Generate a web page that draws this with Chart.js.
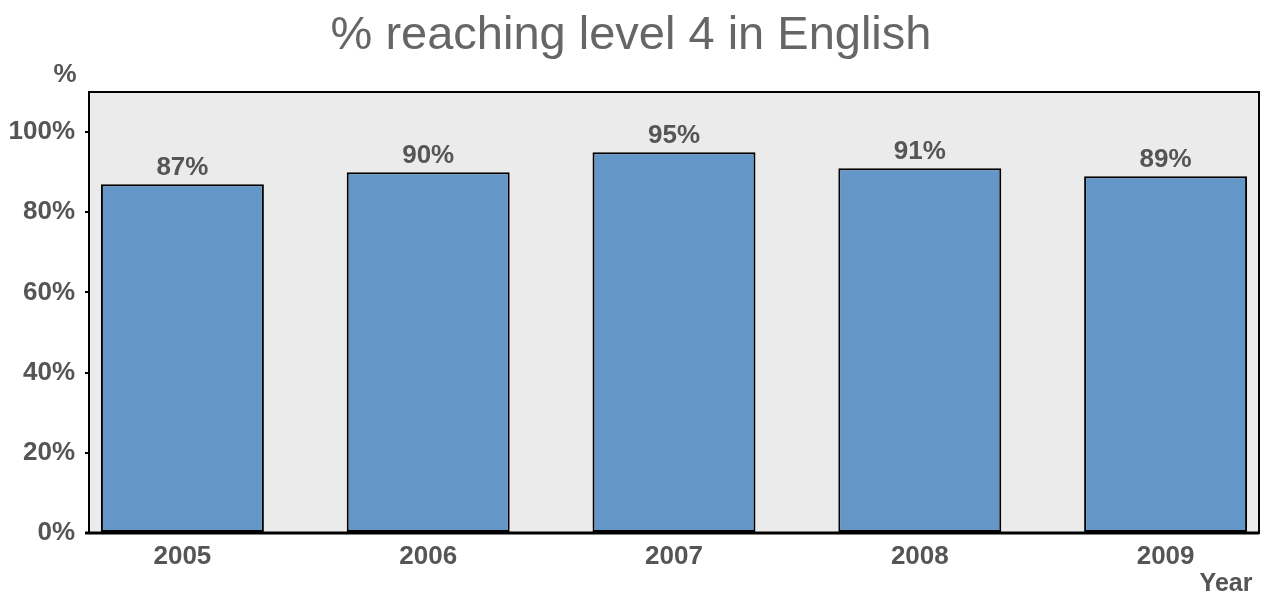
<!DOCTYPE html>
<html>
<head>
<meta charset="utf-8">
<title>% reaching level 4 in English</title>
<script src="https://cdn.jsdelivr.net/npm/chart.js@4/dist/chart.umd.min.js"></script>
<style>
    html, body { margin: 0; padding: 0; background: #fff; }
    #wrap { width: 1263px; height: 599px; }
</style>
</head>
<body>
<div id="wrap"><canvas id="chart" width="1263" height="599"></canvas></div>
<script>
// chart data
const years = ['2005', '2006', '2007', '2008', '2009'];
const pctLevel4 = [87, 90, 95, 91, 89];
const yTicks = [0, 20, 40, 60, 80, 100];

const FONT = "'Liberation Sans', Arial, sans-serif";
const TEXT_GREY = '#555555';

// grey plot background, box border, title, value labels and axis captions
const decorPlugin = {
    id: 'decor',
    beforeDraw(chart) {
        const { ctx, chartArea: a } = chart;
        ctx.save();
        ctx.fillStyle = '#ebebeb';
        ctx.fillRect(a.left, a.top, a.right - a.left, a.bottom - a.top);
        ctx.restore();
    },
    afterDatasetsDraw(chart) {
        const { ctx, chartArea: a } = chart;
        ctx.save();
        // frame
        ctx.strokeStyle = '#000';
        ctx.lineWidth = 2;
        ctx.strokeRect(a.left, a.top, a.right - a.left, a.bottom - a.top);
        ctx.lineWidth = 3;
        ctx.beginPath();
        ctx.moveTo(a.left - 4, a.bottom);
        ctx.lineTo(a.right, a.bottom);
        ctx.stroke();

        // title
        ctx.fillStyle = '#666666';
        ctx.font = '47px ' + FONT;
        ctx.textAlign = 'center';
        ctx.textBaseline = 'alphabetic';
        ctx.fillText('% reaching level 4 in English', 631, 49);

        // value labels
        ctx.fillStyle = TEXT_GREY;
        ctx.font = 'bold 26px ' + FONT;
        const meta = chart.getDatasetMeta(0);
        meta.data.forEach((bar, i) => {
            ctx.fillText(pctLevel4[i] + '%', bar.x, bar.y - 9);
        });

        // axis captions
        ctx.fillText('%', 65, 82);
        ctx.font = 'bold 25px ' + FONT;
        ctx.fillText('Year', 1226, 591);
        ctx.restore();
    }
};

new Chart(document.getElementById('chart'), {
    type: 'bar',
    data: {
        datasets: [{
            data: pctLevel4.map((v, i) => ({ x: i, y: v })),
            backgroundColor: '#6497c8',
            borderColor: '#000000',
            borderWidth: 2,
            borderSkipped: false,
            barPercentage: 0.663,
            categoryPercentage: 1.0
        }]
    },
    options: {
        responsive: false,
        animation: false,
        devicePixelRatio: 1,
        layout: { padding: { top: 92, right: 4, bottom: 0, left: 0 } },
        plugins: {
            legend: { display: false },
            title: { display: false },
            tooltip: { enabled: false }
        },
        scales: {
            x: {
                type: 'linear',
                min: -0.38,
                max: 4.38,
                offset: false,
                afterBuildTicks(scale) {
                    scale.ticks = years.map((y, i) => ({ value: i }));
                },
                grid: { display: false },
                border: { display: false },
                ticks: {
                    color: TEXT_GREY,
                    font: { family: FONT, size: 26, weight: 'bold' },
                    padding: 0,
                    maxRotation: 0,
                    autoSkip: false,
                    callback: v => years[v]
                },
                afterFit(scale) { scale.height = 66; }
            },
            y: {
                min: 0,
                max: 110,
                afterBuildTicks(scale) {
                    scale.ticks = yTicks.map(v => ({ value: v }));
                },
                grid: {
                    drawOnChartArea: false,
                    drawTicks: true,
                    tickLength: 4,
                    color: '#000',
                    lineWidth: 2
                },
                border: { display: false },
                ticks: {
                    color: TEXT_GREY,
                    font: { family: FONT, size: 26, weight: 'bold' },
                    padding: 10,
                    callback: v => v + '%'
                },
                afterFit(scale) { scale.width = 89; }
            }
        }
    },
    plugins: [decorPlugin]
});
</script>
</body>
</html>
